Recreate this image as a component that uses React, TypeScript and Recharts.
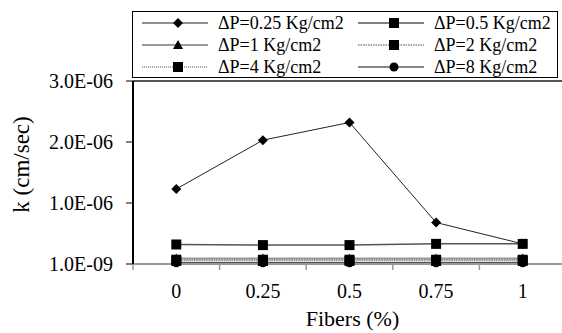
import React from 'react';
import { LineChart, Line, XAxis, YAxis, ReferenceLine } from 'recharts';

const fibers = ['0', '0.25', '0.5', '0.75', '1'];
const k025 = [1.23e-6, 2.03e-6, 2.32e-6, 0.68e-6, 0.33e-6];
const k05 = [0.32e-6, 0.31e-6, 0.31e-6, 0.33e-6, 0.33e-6];
const k1 = [0.09e-6, 0.09e-6, 0.09e-6, 0.09e-6, 0.09e-6];
const k2 = [0.07e-6, 0.07e-6, 0.07e-6, 0.07e-6, 0.07e-6];
const k4 = [0.05e-6, 0.05e-6, 0.05e-6, 0.05e-6, 0.05e-6];
const k8 = [0.02e-6, 0.02e-6, 0.02e-6, 0.02e-6, 0.02e-6];
const yTicks = [0, 1e-6, 2e-6, 3e-6];

const FONT = 'Liberation Serif';

type Shape = 'diamond' | 'square' | 'triangle' | 'circle';

const series: { key: string; name: string; values: number[]; shape: Shape; stroke: string; width: number; dash?: string }[] = [
  { key: 'p025', name: 'ΔP=0.25 Kg/cm2', values: k025, shape: 'diamond', stroke: '#222', width: 1 },
  { key: 'p05', name: 'ΔP=0.5 Kg/cm2', values: k05, shape: 'square', stroke: '#555', width: 1.5 },
  { key: 'p1', name: 'ΔP=1 Kg/cm2', values: k1, shape: 'triangle', stroke: '#999', width: 2 },
  { key: 'p2', name: 'ΔP=2 Kg/cm2', values: k2, shape: 'square', stroke: '#888', width: 1.5, dash: '1.5 1' },
  { key: 'p4', name: 'ΔP=4 Kg/cm2', values: k4, shape: 'square', stroke: '#555', width: 1, dash: '1 1' },
  { key: 'p8', name: 'ΔP=8 Kg/cm2', values: k8, shape: 'circle', stroke: '#111', width: 1 },
];

const data = fibers.map((f, i) => {
  const row: Record<string, number | string> = { i, label: f };
  series.forEach((s) => (row[s.key] = s.values[i]));
  return row;
});

function markerPath(shape: Shape, cx: number, cy: number) {
  if (shape === 'diamond') return <path d={`M${cx},${cy - 5}L${cx + 5},${cy}L${cx},${cy + 5}L${cx - 5},${cy}Z`} fill="#000" />;
  if (shape === 'square') return <rect x={cx - 5} y={cy - 5} width={10} height={10} fill="#000" />;
  if (shape === 'triangle') return <path d={`M${cx},${cy - 5}L${cx + 5},${cy + 4}L${cx - 5},${cy + 4}Z`} fill="#000" />;
  return <circle cx={cx} cy={cy} r={4.5} fill="#000" />;
}

const makeDot = (shape: Shape) => (p: any) => (
  <g key={`${shape}-${p.index}-${p.dataKey}`}>{markerPath(shape, p.cx, p.cy)}</g>
);

function fmt(v: number) {
  if (v === 0) return '1.0E-09';
  const [m, e] = v.toExponential(1).split('e');
  const n = Math.abs(parseInt(e, 10));
  return `${m}E${parseInt(e, 10) < 0 ? '-' : '+'}${n < 10 ? '0' + n : n}`;
}

const XTick = (props: any) => {
  const { x, y, payload } = props;
  const v = payload.value;
  if (Number.isInteger(v)) {
    return (
      <text x={x} y={y + 34} textAnchor="middle" fontFamily={FONT} fontSize={20} fill="#000">
        {fibers[v]}
      </text>
    );
  }
  return <line x1={x} x2={x} y1={y} y2={y + 6} stroke="#999" strokeWidth={1.5} />;
};

function LegendBox() {
  return (
    <div
      style={{
        position: 'absolute',
        left: 132,
        top: 11,
        width: 424,
        height: 65,
        border: '1px solid #000',
        background: '#fff',
        fontFamily: FONT,
        fontSize: 18,
      }}
    >
      {series.map((s, idx) => {
        const col = idx % 2;
        const row = Math.floor(idx / 2);
        return (
          <div
            key={s.key}
            style={{ position: 'absolute', left: col === 0 ? 9 : 225, top: row * 22 + 0, height: 22, display: 'flex', alignItems: 'center' }}
          >
            <svg width={66} height={22}>
              <line x1={0} x2={66} y1={11} y2={11} stroke={s.stroke} strokeWidth={s.width} strokeDasharray={s.dash} />
              {markerPath(s.shape, 36, 11)}
            </svg>
            <span style={{ marginLeft: 10, whiteSpace: 'nowrap', lineHeight: '22px' }}>{s.name}</span>
          </div>
        );
      })}
    </div>
  );
}

export default function App() {
  return (
    <div style={{ position: 'absolute', left: 0, top: 0, width: 562, height: 333, overflow: 'hidden', background: '#fff' }}>
      <LineChart width={570} height={333} data={data} margin={{ top: 81, right: 4, bottom: 0, left: 0 }}>
        <XAxis
          dataKey="i"
          type="number"
          domain={[-0.5, 4.5]}
          ticks={[-0.5, 0, 0.5, 1, 1.5, 2, 2.5, 3, 3.5, 4, 4.5]}
          interval={0}
          tickLine={false}
          tickSize={0}
          tickMargin={0}
          tick={<XTick />}
          axisLine={{ stroke: '#999', strokeWidth: 2 }}
          height={69}
          label={{
            content: (p: any) => (
              <text
                x={p.viewBox.x + p.viewBox.width / 2 + 3}
                y={p.viewBox.y + 62}
                textAnchor="middle"
                fontFamily={FONT}
                fontSize={22}
                fill="#000"
              >
                Fibers (%)
              </text>
            ),
          }}
        />
        <YAxis
          type="number"
          domain={[0, 3e-6]}
          ticks={yTicks}
          interval={0}
          tickFormatter={fmt}
          width={133}
          tickSize={7}
          tickMargin={13}
          tick={{ fontFamily: FONT, fontSize: 20, fill: '#000' }}
          tickLine={{ stroke: '#000', strokeWidth: 1 }}
          axisLine={{ stroke: '#000', strokeWidth: 2 }}
          label={{
            content: (p: any) => {
              const cy = p.viewBox.y + p.viewBox.height / 2 - 8;
              return (
                <text
                  x={29}
                  y={cy}
                  transform={`rotate(-90 29 ${cy})`}
                  textAnchor="middle"
                  fontFamily={FONT}
                  fontSize={23}
                  fill="#000"
                >
                  k (cm/sec)
                </text>
              );
            },
          }}
        />
        <ReferenceLine y={3e-6} stroke="#555" strokeWidth={2} />
        {series.map((s) => (
          <Line
            key={s.key}
            dataKey={s.key}
            stroke={s.stroke}
            strokeWidth={s.width}
            strokeDasharray={s.dash}
            dot={makeDot(s.shape)}
            activeDot={false}
            isAnimationActive={false}
          />
        ))}
      </LineChart>
      <LegendBox />
    </div>
  );
}
